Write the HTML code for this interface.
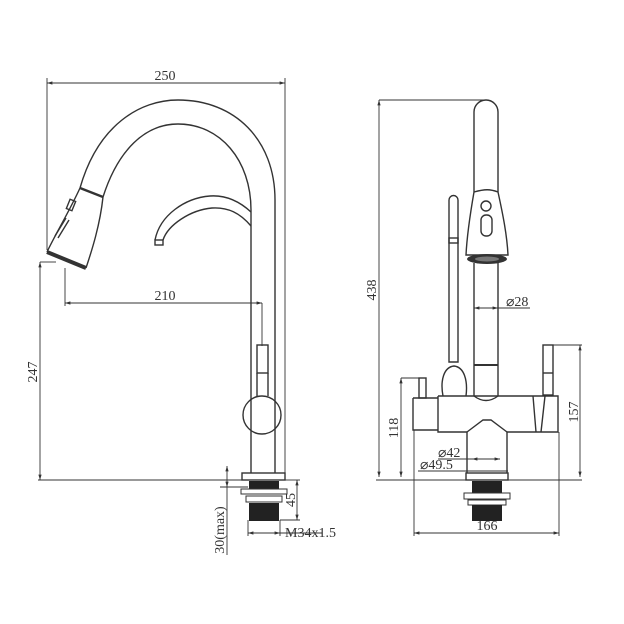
<!DOCTYPE html>
<html><head><style>
html,body{margin:0;padding:0;background:#fff;}
svg{display:block}
text{font-family:"Liberation Serif",serif;fill:#333;font-size:14px}
</style></head><body>
<svg width="624" height="624" viewBox="0 0 624 624" xmlns="http://www.w3.org/2000/svg">
<defs>
<marker id="a" viewBox="0 0 10 10" refX="10" refY="5" markerWidth="6" markerHeight="6" orient="auto-start-reverse"><path d="M0,2 L10,5 L0,8z" fill="#333"/></marker>
</defs>
<g fill="none" stroke="#333" stroke-width="1.4">
<line x1="47" y1="83" x2="285" y2="83" stroke-width="0.9" marker-start="url(#a)" marker-end="url(#a)"/>
<line x1="47" y1="78" x2="47" y2="250" stroke-width="0.9"/>
<line x1="285" y1="78" x2="285" y2="478" stroke-width="0.9"/>
<line x1="65" y1="303" x2="262" y2="303" stroke-width="0.9" marker-start="url(#a)" marker-end="url(#a)"/>
<line x1="65" y1="268" x2="65" y2="306" stroke-width="0.9"/>
<line x1="262" y1="303" x2="262" y2="346" stroke-width="0.9"/>
<line x1="40" y1="262" x2="40" y2="480" stroke-width="0.9" marker-start="url(#a)" marker-end="url(#a)"/>
<line x1="40" y1="262" x2="56" y2="262" stroke-width="0.9"/>
<line x1="38" y1="480" x2="245" y2="480" stroke-width="0.9"/>
<path d="M80,188 C98,125 140,100 178,100 C235,100 275,140 275,200 L275,398"/>
<path d="M103,197 C118,150 145,124 178,124 C220,124 251,160 251,210 L251,398"/>
<path d="M103,197 C100,225 92,250 86,268"/>
<path d="M80,188 C70,210 55,235 47,252"/>
<line x1="80" y1="188" x2="103" y2="197" stroke-width="2.4"/>
<path d="M47,252 L86,268" stroke-width="4"/>
<rect x="68" y="200" width="6" height="10" transform="rotate(22 71 205)"/>
<line x1="55" y1="236" x2="66" y2="218"/>
<line x1="58" y1="238" x2="69" y2="220"/>
<path d="M251,212 C238,200 225,195 210,196 C185,198 160,215 155,240"/>
<path d="M251,226 C240,213 228,207 212,208 C190,210 168,225 163,240"/>
<rect x="155" y="240" width="8" height="5"/>
<rect x="257" y="345" width="11" height="28"/>
<line x1="257" y1="373" x2="257" y2="396"/>
<line x1="268" y1="373" x2="268" y2="396"/>
<circle cx="262" cy="415" r="19"/>
<line x1="251" y1="398" x2="251" y2="473"/>
<line x1="275" y1="398" x2="275" y2="473"/>
<rect x="242" y="473" width="43" height="7"/>
<line x1="297" y1="480" x2="297" y2="520" stroke-width="0.9" marker-start="url(#a)" marker-end="url(#a)"/>
<line x1="285" y1="480" x2="300" y2="480" stroke-width="0.9"/>
<line x1="280" y1="520" x2="300" y2="520" stroke-width="0.9"/>
<line x1="227" y1="466" x2="227" y2="487" stroke-width="0.9" marker-start="url(#a)" marker-end="url(#a)"/>
<line x1="227" y1="487" x2="227" y2="555" stroke-width="0.9"/>
<line x1="220" y1="487" x2="248" y2="487" stroke-width="0.9"/>
<line x1="248" y1="533" x2="280" y2="533" stroke-width="0.9" marker-start="url(#a)" marker-end="url(#a)"/>
<line x1="248" y1="520" x2="248" y2="536" stroke-width="0.9"/>
<line x1="280" y1="520" x2="280" y2="536" stroke-width="0.9"/>
<line x1="280" y1="533" x2="322" y2="533" stroke-width="0.9"/>
</g>
<rect x="249" y="481" width="30" height="8" fill="#222"/>
<rect x="241" y="489" width="46" height="5" fill="#fff" stroke="#333"/>
<rect x="246" y="496" width="36" height="6" fill="#fff" stroke="#333"/>
<rect x="249" y="503" width="30" height="18" fill="#222"/>
<g fill="none" stroke="#333" stroke-width="1.4">
<line x1="379" y1="100" x2="379" y2="477" stroke-width="0.9" marker-start="url(#a)" marker-end="url(#a)"/>
<line x1="379" y1="100" x2="484" y2="100" stroke-width="0.9"/>
<line x1="376" y1="480" x2="582" y2="480" stroke-width="0.9"/>
<path d="M474,192 L474,112 A12,12 0 0 1 498,112 L498,192"/>
<path d="M474,192 C485,189 490,189 498,192"/>
<path d="M474,192 C470,215 467,235 466,255 L508,255 C507,235 503,215 498,192"/>
<circle cx="486" cy="206" r="5"/>
<rect x="481" y="215" width="11" height="21" rx="5"/>
<line x1="474" y1="263" x2="474" y2="372"/>
<line x1="498" y1="263" x2="498" y2="372"/>
<line x1="474" y1="365" x2="498" y2="365" stroke-width="2"/>
<line x1="474" y1="308" x2="498" y2="308" stroke-width="0.9" marker-start="url(#a)" marker-end="url(#a)"/>
<line x1="498" y1="308" x2="530" y2="308" stroke-width="0.9"/>
<path d="M449,200 A4.5,4.5 0 0 1 458,200 L458,362 L449,362 Z"/>
<rect x="449" y="238" width="9" height="5"/>
<path d="M443,396 C440,380 444,367 454,366 C464,367 468,380 466,396"/>
<path d="M474,372 L474,396 C482,402 490,402 498,396 L498,372"/>
<path d="M438,396 L558,396 L558,432 L507,432 M438,396 L438,432 L467,432"/>
<path d="M467,432 L483,420 L491,420 L507,432"/>
<path d="M413,398 L438,398 M413,398 L413,430 L438,430"/>
<path d="M467,432 L467,473 M507,432 L507,473"/>
<path d="M533,396 L536,432 M545,396 L541,432"/>
<rect x="419" y="378" width="7" height="20"/>
<rect x="543" y="345" width="10" height="50"/>
<line x1="543" y1="373" x2="553" y2="373"/>
<rect x="466" y="473" width="42" height="7"/>
<line x1="401" y1="378" x2="401" y2="477" stroke-width="0.9" marker-start="url(#a)" marker-end="url(#a)"/>
<line x1="401" y1="378" x2="419" y2="378" stroke-width="0.9"/>
<line x1="580" y1="345" x2="580" y2="477" stroke-width="0.9" marker-start="url(#a)" marker-end="url(#a)"/>
<line x1="553" y1="345" x2="582" y2="345" stroke-width="0.9"/>
<line x1="472" y1="459" x2="500" y2="459" stroke-width="0.9" marker-start="url(#a)" marker-end="url(#a)"/>
<line x1="438" y1="459" x2="472" y2="459" stroke-width="0.9"/>
<line x1="418" y1="471" x2="508" y2="471" stroke-width="0.9"/>
<line x1="414" y1="533" x2="559" y2="533" stroke-width="0.9" marker-start="url(#a)" marker-end="url(#a)"/>
<line x1="414" y1="430" x2="414" y2="536" stroke-width="0.9"/>
<line x1="559" y1="432" x2="559" y2="536" stroke-width="0.9"/>
</g>
<ellipse cx="487" cy="259" rx="20" ry="5" fill="#333"/>
<ellipse cx="487" cy="259" rx="12" ry="2.5" fill="#777"/>
<rect x="472" y="481" width="30" height="12" fill="#222"/>
<rect x="464" y="493" width="46" height="6" fill="#fff" stroke="#333"/>
<rect x="468" y="500" width="38" height="5" fill="#fff" stroke="#333"/>
<rect x="472" y="505" width="30" height="16" fill="#222"/>
<text x="165" y="80" text-anchor="middle">250</text>
<text x="165" y="300" text-anchor="middle">210</text>
<text transform="translate(37,372) rotate(-90)" text-anchor="middle">247</text>
<text transform="translate(295,500) rotate(-90)" text-anchor="middle">45</text>
<text transform="translate(224,530) rotate(-90)" text-anchor="middle">30(max)</text>
<text x="285" y="537">M34x1.5</text>
<text transform="translate(376,290) rotate(-90)" text-anchor="middle">438</text>
<text x="506" y="306">⌀28</text>
<text transform="translate(398,428) rotate(-90)" text-anchor="middle">118</text>
<text transform="translate(578,412) rotate(-90)" text-anchor="middle">157</text>
<text x="438" y="457">⌀42</text>
<text x="420" y="469">⌀49.5</text>
<text x="487" y="530" text-anchor="middle">166</text>
</svg>
</body></html>
